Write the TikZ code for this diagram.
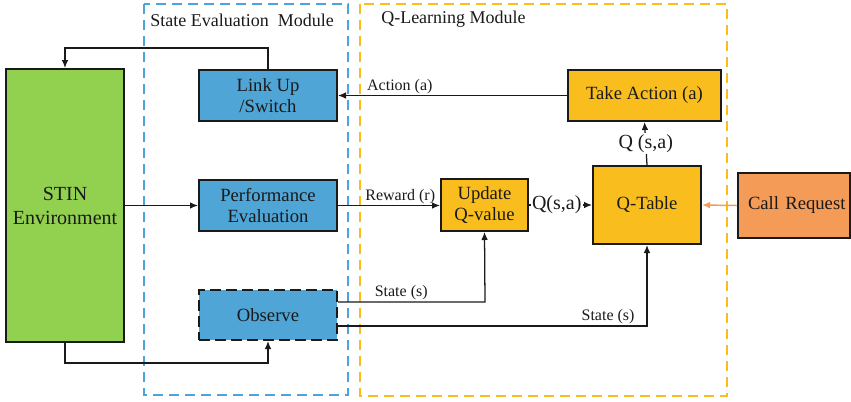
\documentclass[tikz,border=0pt]{standalone}
\usepackage{fontspec}
\setmainfont{Liberation Serif}
\usetikzlibrary{arrows.meta}
\definecolor{boxblue}{HTML}{4FA5D5}
\definecolor{boxgreen}{HTML}{92D050}
\definecolor{boxgold}{HTML}{F9BE1E}
\definecolor{boxorange}{HTML}{F49B58}
\definecolor{modblue}{HTML}{4BA4DA}
\definecolor{modgold}{HTML}{F9BE1E}
\definecolor{linegray}{HTML}{1A1A1A}
\tikzset{
  px/.style={x=0.75pt,y=-0.75pt},
  blk/.style={draw=linegray,line width=1.5pt,align=center,inner sep=0pt,font=\fontsize{14}{16}\selectfont,text=linegray},
  modbox/.style={dashed,dash pattern=on 7.5pt off 4.5pt,line width=1.4pt},
  conn/.style={draw=linegray,line width=0.95pt,-{Latex[length=6pt,width=5pt]}},
  lbl/.style={font=\fontsize{12}{14}\selectfont,text=linegray,inner sep=1pt},
  qlbl/.style={font=\fontsize{15}{17}\selectfont,text=linegray,inner sep=1pt}
}
\begin{document}
\begin{tikzpicture}[px]
\useasboundingbox (0,0) rectangle (851,401);
% modules
\draw[modbox,draw=modblue] (144,4) rectangle (348,395);
\draw[modbox,draw=modgold] (360,4) rectangle (727,396);
\node[anchor=west,font=\fontsize{13.5}{15}\selectfont,text=linegray,inner sep=0pt] (t1) at (150,20) {State Evaluation\ \ Module};
\node[anchor=west,font=\fontsize{13.5}{15}\selectfont,text=linegray,inner sep=0pt] (t2) at (381,19) {Q-Learning Module};
% boxes
\node[blk,fill=boxgreen,minimum width=118*0.75pt,minimum height=273*0.75pt,font=\fontsize{15}{18}\selectfont] (stin) at (65,205.5) {STIN\\Environment};
\node[blk,fill=boxblue,minimum width=138*0.75pt,minimum height=51*0.75pt] (link) at (268,95.5) {Link Up\\/Switch};
\node[blk,fill=boxblue,minimum width=138*0.75pt,minimum height=51*0.75pt] (perf) at (268,205.5) {Performance\\Evaluation};
\node[blk,fill=boxblue,dashed,dash pattern=on 8pt off 4pt,minimum width=138*0.75pt,minimum height=50*0.75pt] (obs) at (268,315) {Observe};
\node[blk,fill=boxgold,minimum width=153*0.75pt,minimum height=51*0.75pt] (take) at (644.5,95.5) {Take Action (a)};
\node[blk,fill=boxgold,minimum width=87*0.75pt,minimum height=52*0.75pt] (upd) at (484.5,205) {Update\\Q-value};
\node[blk,fill=boxgold,minimum width=108*0.75pt,minimum height=78*0.75pt] (qt) at (647,205) {Q-Table};
\node[blk,fill=boxorange,minimum width=112*0.75pt,minimum height=65*0.75pt,text width=112*0.75pt,align=left] (call) at (794,205.5) {\hspace*{7.5pt}Call Request};
% coordinates
\coordinate (c1) at (268,48);
\coordinate (c2) at (65,48);
\coordinate (c3) at (65,363);
\coordinate (c4) at (268,363);
\coordinate (c5) at (485,302);
\coordinate (c6) at (647,326);
% connectors
\draw[conn] (link.north) -- (c1) -- (c2) -- (stin.north);
\draw[conn] (stin.south) -- (c3) -- (c4) -- (obs.south);
\draw[conn] (stin.east |- perf.west) -- (perf.west);
\draw[conn] (perf.east) -- node[lbl,above,pos=0.61] (rl) {Reward (r)} (upd.west |- perf.east);
\draw[conn] (take.west) -- node[lbl,above,pos=0.73] (al) {Action (a)} (link.east);
\draw[conn] (obs.east |- c5) -- node[lbl,above,pos=0.43] (sl1) {State (s)} (c5) -- (upd.south);
\draw[conn] (obs.east |- c6) -- node[lbl,above,pos=0.874] (sl2) {State (s)} (c6) -- (qt.south);
\draw[conn] (upd.east) -- node[qlbl,fill=white,pos=0.44] (ql) {Q(s,a)} (qt.west);
\draw[conn] (qt.north) -- node[qlbl,fill=white,pos=0.5] (ql2) {Q (s,a)} (take.south);
\draw[draw=boxorange,line width=1.1pt,-{Latex[length=6pt,width=5pt]}] (call.west) -- (qt.east);
\end{tikzpicture}
\end{document}
